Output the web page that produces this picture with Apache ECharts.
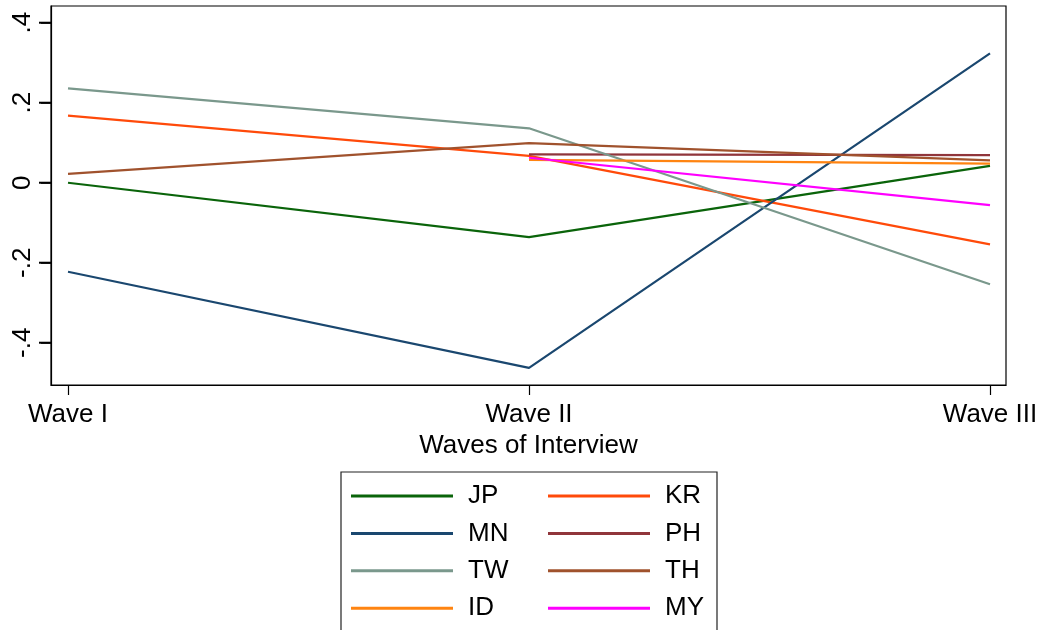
<!DOCTYPE html>
<html>
<head>
<meta charset="utf-8">
<script src="https://cdn.jsdelivr.net/npm/echarts@6/dist/echarts.min.js"></script>
<style>
html,body{margin:0;padding:0;background:#fff;}
#c{width:1045px;height:630px;}
</style>
</head>
<body>
<div id="c"></div>
<script>
var categories = ['Wave I', 'Wave II', 'Wave III'];
var yTicks = [-0.4, -0.2, 0, 0.2, 0.4];
var yTickLabels = ['-.4', '-.2', '0', '.2', '.4'];
var JP = [0.000, -0.136, 0.042];
var KR = [0.1675, 0.067, -0.154];
var MN = [-0.2225, -0.463, 0.3235];
var PH = [null, 0.071, 0.069];
var TW = [0.236, 0.136, -0.254];
var TH = [0.022, 0.099, 0.056];
var ID = [null, 0.057, 0.0475];
var MY = [null, 0.0625, -0.056];

var seriesDefs = [
  {name: 'JP', data: JP, color: '#0a640a'},
  {name: 'KR', data: KR, color: '#ff4a0a'},
  {name: 'MN', data: MN, color: '#1a476f'},
  {name: 'PH', data: PH, color: '#90353b'},
  {name: 'TW', data: TW, color: '#7a988c'},
  {name: 'TH', data: TH, color: '#a0522d'},
  {name: 'ID', data: ID, color: '#ff8411'},
  {name: 'MY', data: MY, color: '#ff00ff'}
];

var X_MIN = 0.9631, X_MAX = 3.0347, Y_MIN = -0.5057, Y_MAX = 0.4418;
var FONT = 'Liberation Sans, Arial, sans-serif';
var chart = echarts.init(document.getElementById('c'), null, {renderer: 'canvas'});

var series = seriesDefs.map(function (s) {
  return {
    name: s.name,
    type: 'line',
    symbol: 'none',
    color: s.color,
    lineStyle: {width: 2.2, color: s.color},
    connectNulls: false,
    data: s.data.map(function (v, i) { return [i + 1, v]; })
  };
});

var legendCommon = {
  orient: 'vertical',
  icon: 'rect',
  itemWidth: 102,
  itemHeight: 3,
  itemGap: 11.4,
  padding: 0,
  selectedMode: false,
  textStyle: {fontFamily: FONT, fontSize: 26, color: '#000', lineHeight: 26, padding: [0, 0, 0, 10]}
};

chart.setOption({
  animation: false,
  backgroundColor: '#fff',
  grid: {left: 51, right: 39, top: 6, bottom: 245, show: true, borderColor: '#000', borderWidth: 1.2, backgroundColor: 'transparent'},
  xAxis: {
    type: 'value',
    min: X_MIN,
    max: X_MAX,
    name: 'Waves of Interview',
    nameLocation: 'middle',
    nameGap: 44,
    nameTextStyle: {fontFamily: FONT, fontSize: 26, color: '#000'},
    axisLine: {show: true, onZero: false, lineStyle: {color: '#000', width: 1.2}},
    axisTick: {show: true, length: 10, lineStyle: {color: '#000', width: 1.2}, customValues: [1, 2, 3]},
    axisLabel: {
      fontFamily: FONT, fontSize: 26, color: '#000', margin: 17,
      customValues: [1, 2, 3],
      formatter: function (v) { return categories[Math.round(v) - 1]; }
    },
    splitLine: {show: false}
  },
  yAxis: {
    type: 'value',
    min: Y_MIN,
    max: Y_MAX,
    axisLine: {show: true, onZero: false, lineStyle: {color: '#000', width: 1.2}},
    axisTick: {show: true, inside: false, length: 10, lineStyle: {color: '#000', width: 1.5}, customValues: yTicks},
    axisLabel: {
      fontFamily: FONT, fontSize: 26, color: '#000', margin: 15, rotate: 90,
      customValues: yTicks,
      formatter: function (v) {
        for (var i = 0; i < yTicks.length; i++) { if (Math.abs(yTicks[i] - v) < 1e-6) return yTickLabels[i]; }
        return '';
      }
    },
    splitLine: {show: false}
  },
  legend: [
    Object.assign({}, legendCommon, {left: 351, top: 483, data: ['JP', 'MN', 'TW', 'ID']}),
    Object.assign({}, legendCommon, {left: 548, top: 483, data: ['KR', 'PH', 'TH', 'MY']})
  ],
  series: series
});

var elems = [{
  type: 'rect',
  id: 'legendbox',
  shape: {x: 341, y: 472, width: 376, height: 220},
  style: {fill: 'none', stroke: '#222', lineWidth: 1.2},
  silent: true
}];
yTicks.forEach(function (v, i) {
  var p = chart.convertToPixel({xAxisIndex: 0, yAxisIndex: 0}, [X_MIN, v]);
  elems.push({
    type: 'rect',
    id: 'ytick' + i,
    silent: true,
    z: 100,
    shape: {x: p[0] - 12, y: p[1] - 1, width: 12, height: 2},
    style: {fill: '#000'}
  });
});
chart.setOption({graphic: elems});
</script>
</body>
</html>
